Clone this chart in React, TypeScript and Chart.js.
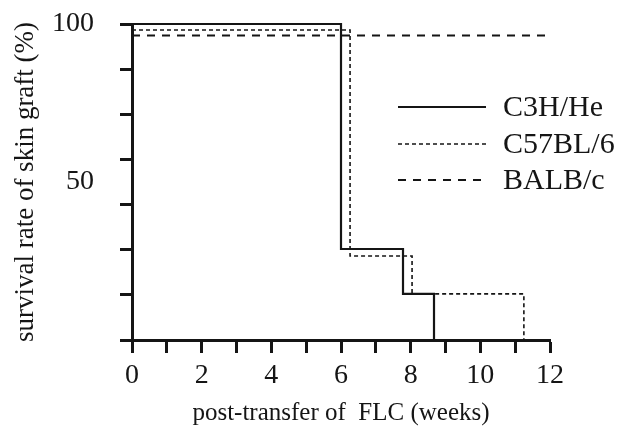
import React, { useEffect, useRef } from 'react';
import { Chart, registerables } from 'chart.js';

Chart.register(...registerables);

// ---- Data ----
const seriesNames = ['C3H/He', 'C57BL/6', 'BALB/c'];

const c3hWeeks = [0, 6.0, 7.78, 8.67];
const c3hSurvival = [100, 28.8, 14.6, 0];

const c57Weeks = [0, 6.26, 8.04, 11.25];
const c57Survival = [98.1, 26.6, 14.6, 0];

const balbWeeks = [0, 11.95];
const balbSurvival = [96.4, 96.4];

const xTickLabels = ['0', '2', '4', '6', '8', '10', '12'];
const yTickLabels = ['50', '100'];
const yMinorSteps = 7; // tick marks every 1/7 of the axis

const xTitle = 'post-transfer of  FLC (weeks)';
const yTitle = 'survival rate of skin graft (%)';

const FONT = "'Liberation Serif', 'Times New Roman', serif";
const INK = '#151515';

const toPoints = (xs: number[], ys: number[]) => xs.map((x, i) => ({ x, y: ys[i] }));

const insideLegend = {
  id: 'insideLegend',
  afterDatasetsDraw(chart: any) {
    const { ctx, chartArea } = chart;
    const x0 = chartArea.left + 266;
    const lineLen = 88;
    const rowY = [chartArea.top + 83, chartArea.top + 120, chartArea.top + 156];
    chart.data.datasets.forEach((ds: any, i: number) => {
      const y = rowY[i];
      ctx.save();
      ctx.strokeStyle = ds.borderColor;
      ctx.lineWidth = ds.borderWidth;
      ctx.setLineDash(ds.borderDash || []);
      ctx.beginPath();
      ctx.moveTo(x0, y);
      ctx.lineTo(x0 + lineLen, y);
      ctx.stroke();
      ctx.setLineDash([]);
      ctx.fillStyle = INK;
      ctx.font = `30px ${FONT}`;
      ctx.textBaseline = 'middle';
      ctx.textAlign = 'left';
      ctx.fillText(ds.label, x0 + lineLen + 17, y + 1);
      ctx.restore();
    });
  },
};

export default function App() {
  const ref = useRef<HTMLCanvasElement>(null);

  useEffect(() => {
    document.body.style.margin = '0';
    const chart = new Chart(ref.current as HTMLCanvasElement, {
      type: 'line',
      data: {
        datasets: [
          {
            label: seriesNames[0],
            data: toPoints(c3hWeeks, c3hSurvival),
            borderColor: INK,
            borderWidth: 2.2,
            stepped: true,
            pointRadius: 0,
            clip: false,
          },
          {
            label: seriesNames[1],
            data: toPoints(c57Weeks, c57Survival),
            borderColor: INK,
            borderWidth: 1.6,
            borderDash: [4, 3],
            stepped: true,
            pointRadius: 0,
            clip: false,
          },
          {
            label: seriesNames[2],
            data: toPoints(balbWeeks, balbSurvival),
            borderColor: INK,
            borderWidth: 2,
            borderDash: [8, 7],
            stepped: true,
            pointRadius: 0,
            clip: false,
          },
        ],
      } as any,
      options: {
        responsive: false,
        animation: false,
        layout: { autoPadding: false, padding: { top: 24, right: 73, left: 0, bottom: 0 } },
        plugins: { legend: { display: false }, tooltip: { enabled: false } },
        scales: {
          x: {
            type: 'linear',
            min: 0,
            max: 12,
            afterFit: (s: any) => {
              s.height = 92;
              s.paddingLeft = 0;
              s.paddingRight = 0;
            },
            border: { display: true, color: INK, width: 3 },
            grid: {
              drawOnChartArea: false,
              drawTicks: true,
              tickLength: 13,
              tickWidth: 3,
              tickColor: INK,
            },
            ticks: {
              stepSize: 1,
              autoSkip: false,
              maxRotation: 0,
              padding: 6,
              color: INK,
              font: { family: FONT, size: 28 },
              callback: (v: any) => (xTickLabels.includes(String(v)) ? String(v) : ''),
            },
            title: {
              display: true,
              text: xTitle,
              color: INK,
              font: { family: FONT, size: 25 },
              padding: { top: 0, bottom: 4 },
            },
          },
          y: {
            type: 'linear',
            min: 0,
            max: 100,
            afterFit: (s: any) => {
              s.width = 132;
              s.paddingTop = 0;
              s.paddingBottom = 0;
            },
            afterBuildTicks: (s: any) => {
              const vals: number[] = [];
              for (let k = 0; k < yMinorSteps; k++) vals.push((k * 100) / yMinorSteps);
              vals.push(100);
              yTickLabels.forEach((t) => {
                const n = Number(t);
                if (!vals.some((v) => Math.abs(v - n) < 1e-9)) vals.push(n);
              });
              vals.sort((a, b) => a - b);
              s.ticks = vals.map((value) => ({ value }));
            },
            border: { display: true, color: INK, width: 3 },
            grid: {
              drawOnChartArea: false,
              drawTicks: true,
              tickLength: 12,
              tickWidth: 3,
              tickColor: (ctx: any) =>
                ctx.tick && Math.abs(((ctx.tick.value * yMinorSteps) / 100) % 1) > 1e-6 &&
                Math.abs((((ctx.tick.value * yMinorSteps) / 100) % 1) - 1) > 1e-6
                  ? 'rgba(0,0,0,0)'
                  : INK,
            },
            ticks: {
              autoSkip: false,
              padding: 26,
              color: INK,
              font: { family: FONT, size: 28 },
              callback: (v: any) => {
                const n = Number(v);
                const hit = yTickLabels.find((t) => Math.abs(Number(t) - n) < 1e-9);
                return hit ? hit : '';
              },
            },
            title: {
              display: true,
              text: yTitle,
              color: INK,
              font: { family: FONT, size: 27 },
              padding: { top: 10, bottom: 0 },
            },
          },
        },
      } as any,
      plugins: [insideLegend],
    });
    return () => chart.destroy();
  }, []);

  return (
    <div style={{ position: 'absolute', left: 0, top: 0, width: 623, height: 432, background: '#fff' }}>
      <canvas ref={ref} width={623} height={432} style={{ display: 'block', width: 623, height: 432 }} />
    </div>
  );
}
